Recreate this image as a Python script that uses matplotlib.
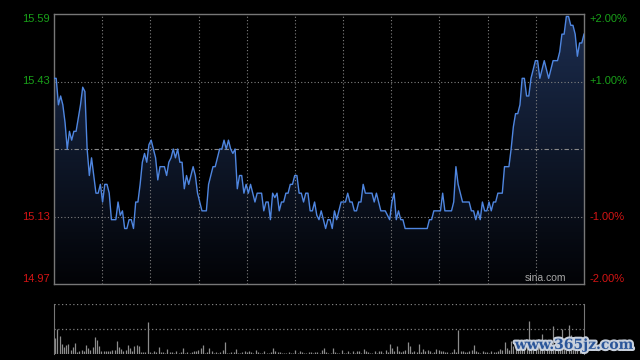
import numpy as np
import matplotlib
matplotlib.use("Agg")
import matplotlib.pyplot as plt
from matplotlib.colors import LinearSegmentedColormap
import matplotlib.patheffects as pe

# intraday minute prices (241 points, 9:30-11:30 / 13:00-15:00)
prev_close = 15.28
price = [
    15.44, 15.44, 15.38, 15.40, 15.38, 15.34, 15.28, 15.32, 15.30, 15.32,
    15.32, 15.35, 15.38, 15.42, 15.41, 15.28, 15.22, 15.26, 15.22, 15.18,
    15.18, 15.20, 15.16, 15.20, 15.20, 15.18, 15.12, 15.12, 15.12, 15.16,
    15.13, 15.14, 15.10, 15.10, 15.12, 15.12, 15.10, 15.16, 15.16, 15.20,
    15.25, 15.27, 15.25, 15.29, 15.30, 15.28, 15.26, 15.21, 15.24, 15.24,
    15.24, 15.22, 15.25, 15.26, 15.28, 15.26, 15.28, 15.25, 15.25, 15.19,
    15.22, 15.20, 15.22, 15.24, 15.22, 15.18, 15.16, 15.14, 15.14, 15.14,
    15.20, 15.22, 15.24, 15.24, 15.26, 15.28, 15.28, 15.30, 15.28, 15.30,
    15.28, 15.27, 15.28, 15.19, 15.22, 15.22, 15.18, 15.20, 15.18, 15.20,
    15.18, 15.16, 15.18, 15.18, 15.18, 15.14, 15.16, 15.16, 15.12, 15.18,
    15.17, 15.18, 15.14, 15.16, 15.16, 15.18, 15.18, 15.20, 15.20, 15.22,
    15.22, 15.18, 15.18, 15.16, 15.18, 15.18, 15.14, 15.14, 15.16, 15.13,
    15.12, 15.14, 15.12, 15.10, 15.12, 15.12, 15.10, 15.14, 15.12, 15.14,
    15.16, 15.16, 15.16, 15.18, 15.16, 15.16, 15.14, 15.14, 15.16, 15.16,
    15.20, 15.18, 15.18, 15.18, 15.18, 15.16, 15.18, 15.16, 15.14, 15.14,
    15.14, 15.13, 15.12, 15.16, 15.18, 15.12, 15.14, 15.12, 15.12, 15.10,
    15.10, 15.10, 15.10, 15.10, 15.10, 15.10, 15.10, 15.10, 15.10, 15.10,
    15.12, 15.12, 15.14, 15.14, 15.14, 15.14, 15.18, 15.14, 15.14, 15.14,
    15.14, 15.16, 15.24, 15.20, 15.18, 15.16, 15.16, 15.16, 15.16, 15.14,
    15.14, 15.12, 15.14, 15.12, 15.16, 15.14, 15.14, 15.16, 15.14, 15.16,
    15.16, 15.18, 15.18, 15.18, 15.24, 15.24, 15.24, 15.28, 15.33, 15.36,
    15.36, 15.38, 15.44, 15.44, 15.40, 15.40, 15.44, 15.46, 15.48, 15.48,
    15.44, 15.46, 15.48, 15.46, 15.44, 15.46, 15.48, 15.48, 15.48, 15.50,
    15.54, 15.54, 15.58, 15.58, 15.56, 15.56, 15.54, 15.49, 15.52, 15.52,
    15.54,
]
# minute volume (lots)
volume = [
    1600, 2500, 1800, 1000, 700, 900, 1000, 400, 700, 1100,
    200, 300, 400, 300, 900, 600, 400, 700, 1700, 1400,
    800, 300, 300, 300, 300, 300, 400, 400, 1300, 700,
    500, 300, 400, 900, 600, 300, 800, 900, 800, 200,
    200, 200, 3200, 200, 100, 300, 200, 700, 200, 200,
    100, 500, 200, 200, 100, 300, 100, 200, 600, 100,
    200, 100, 200, 300, 300, 400, 600, 900, 100, 200,
    600, 300, 100, 200, 100, 200, 400, 1200, 100, 100,
    200, 200, 500, 100, 100, 200, 300, 200, 300, 200,
    100, 400, 200, 100, 100, 300, 100, 100, 200, 600,
    300, 200, 200, 100, 100, 100, 200, 100, 100, 400,
    100, 300, 200, 100, 100, 200, 200, 100, 200, 200,
    100, 400, 600, 200, 100, 100, 600, 200, 100, 100,
    400, 100, 100, 300, 100, 300, 100, 300, 300, 100,
    500, 300, 200, 100, 100, 300, 100, 300, 300, 100,
    400, 200, 1000, 600, 300, 800, 300, 200, 300, 400,
    1200, 800, 200, 300, 200, 1000, 200, 500, 300, 400,
    300, 100, 200, 500, 400, 300, 300, 200, 200, 100,
    200, 500, 200, 2400, 300, 300, 200, 200, 300, 400,
    900, 300, 200, 100, 300, 200, 200, 100, 300, 200,
    200, 300, 500, 400, 1200, 600, 400, 1300, 800, 900,
    700, 900, 1400, 1100, 800, 3300, 900, 1000, 1400, 1200,
    900, 2000, 1300, 1100, 1400, 1200, 2800, 1000, 1300, 1100,
    2500, 1600, 1200, 2900, 1900, 1700, 1400, 1000, 1600, 1200,
    1400,
]
left_labels = ["15.59", "15.43", "15.13", "14.97"]
right_labels = ["+2.00%", "+1.00%", "-1.00%", "-2.00%"]
pct_levels = [0.02, 0.01, -0.01, -0.02]

plt.rcParams['font.family'] = ['Liberation Sans', 'DejaVu Sans']

fig = plt.figure(figsize=(6.4, 3.6), dpi=100, facecolor='black')
ax = fig.add_axes([54/640, 76/360, 530/640, 270/360], facecolor='black')
axv = fig.add_axes([54/640, 6/360, 530/640, 50/360], facecolor='black')

x = np.arange(len(price))
lo = prev_close * 0.98
hi = prev_close * 1.02
ax.set_xlim(0, 240)
ax.set_ylim(lo, hi)

# gradient fill under the price line
poly = ax.fill_between(x, price, lo, color='none', lw=0)
cmap = LinearSegmentedColormap.from_list('fill', ['#020306', '#1c2d4f'])
grad = np.linspace(0, 1, 256).reshape(-1, 1)
im = ax.imshow(grad, extent=[0, 240, lo, hi], origin='lower', aspect='auto',
               cmap=cmap, zorder=1)
im.set_clip_path(poly.get_paths()[0], transform=ax.transData)

ax.plot(x, price, color='#4f86e0', lw=1.0, zorder=3)

# grid
dot = (0, (1, 2))
for lv in [0.01, -0.01]:
    ax.axhline(prev_close * (1 + lv), color='#808080', lw=0.8, ls=dot, zorder=2)
for k in range(1, 11):
    ax.axvline(240 * k / 11, color='#808080', lw=0.8, ls=dot, zorder=2)
ax.axhline(prev_close, color='#8a8a8a', lw=0.8, ls=(0, (4, 2, 1, 2)), zorder=2)

ax.set_xticks([])
ax.set_yticks([])
for s in ax.spines.values():
    s.set_color('#777777')
    s.set_linewidth(1)

yt = ax.get_yaxis_transform()
for lab, rl, lv in zip(left_labels, right_labels, pct_levels):
    yv = prev_close * (1 + lv)
    col = '#19a019' if lv > 0 else '#d41414'
    va = 'center'
    if lv == 0.02:
        va = 'top'
    elif lv == -0.02:
        va = 'bottom'
    ax.text(-0.008, yv, lab, transform=yt, ha='right', va=va, color=col, fontsize=8)
    ax.text(1.011, yv, rl, transform=yt, ha='left', va=va, color=col, fontsize=8)

ax.text(0.927, 0.005, 'sina.com', transform=ax.transAxes, ha='center', va='bottom',
        color='#a8a8a8', fontsize=7.5)

# volume panel
axv.vlines(x, 0, volume, color='#8c8c8c', lw=0.9)
axv.set_xlim(-0.5, 240)
axv.set_ylim(0, 5000)
axv.axhline(5000, color='#808080', lw=0.9, ls=dot)
axv.axhline(2500, color='#808080', lw=0.9, ls=dot)
axv.set_xticks([])
axv.set_yticks([])
for side in ['top', 'bottom']:
    axv.spines[side].set_visible(False)
for side in ['left', 'right']:
    axv.spines[side].set_color('#777777')

fig.text(0.897, 0.042, 'www.365jz.com', ha='center', va='center', color='#2a5599',
         fontsize=10, fontweight='bold', family='DejaVu Serif',
         path_effects=[pe.withStroke(linewidth=3, foreground='#c8d0dc')])

fig.savefig('out.png', dpi=100, facecolor='black')
